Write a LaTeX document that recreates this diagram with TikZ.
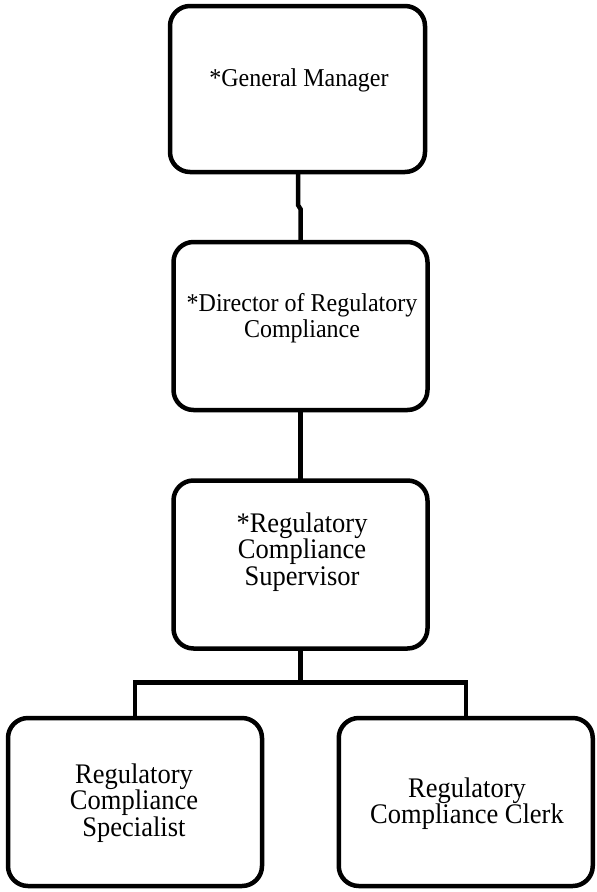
\documentclass[tikz,border=0pt]{standalone}
\usepackage{fontspec}
\setmainfont{Liberation Serif}
\setlength{\lineskiplimit}{-100pt}
\newcommand\myline[1]{\scalebox{1}[1.07]{#1}}
\newcommand\mystrut{\rule{0pt}{24pt}}
\begin{document}
\begin{tikzpicture}[x=1pt,y=-1pt,
  box/.style={draw=black, line width=4.5pt, rounded corners=20pt, fill=white,
    minimum width=254pt, minimum height=168pt, inner sep=0pt, outer sep=0pt},
  lbl/.style={align=center, inner sep=0pt, anchor=north},
  small/.style={font=\fontsize{24}{26.5}\selectfont},
  big/.style={font=\fontsize{26.5}{26.5}\selectfont},
  conn/.style={draw=black, line width=4.5pt, line join=miter}]
\useasboundingbox[fill=white] (0,0) rectangle (597,892);
% boxes
\node[box, minimum width=255pt, minimum height=166pt] (gm) at (297.5,89) {};
\node[box] (dir) at (300.5,326) {};
\node[box] (sup) at (300.5,564.5) {};
\node[box] (spec) at (135,802) {};
\node[box] (clerk) at (465.75,802) {};
% labels (north = first baseline - 24)
\node[lbl, small] (gmt) at (299,62) {\mystrut\myline{*General Manager}};
\node[lbl, small] (dirt) at (302,287) {\mystrut\myline{*Director of Regulatory}\\\myline{Compliance}};
\node[lbl, big] (supt) at (302,508) {\mystrut\myline{*Regulatory}\\\myline{Compliance}\\\myline{Supervisor}};
\node[lbl, big] (spect) at (134,759) {\mystrut\myline{Regulatory}\\\myline{Compliance}\\\myline{Specialist}};
\node[lbl, big] (clerkt) at (467,773) {\mystrut\myline{Regulatory}\\\myline{Compliance Clerk}};
% connectors
\draw[conn] ([xshift=0.5pt]gm.south) -- ++(0,33) -- ++(2.5,4) -- (dir.north);
\draw[conn] (dir.south) -- (sup.north);
\draw[conn] (sup.south) -- ++(0,34) coordinate (bus);
\draw[conn] (spec.north) |- (bus) -| (clerk.north);
\end{tikzpicture}
\end{document}
